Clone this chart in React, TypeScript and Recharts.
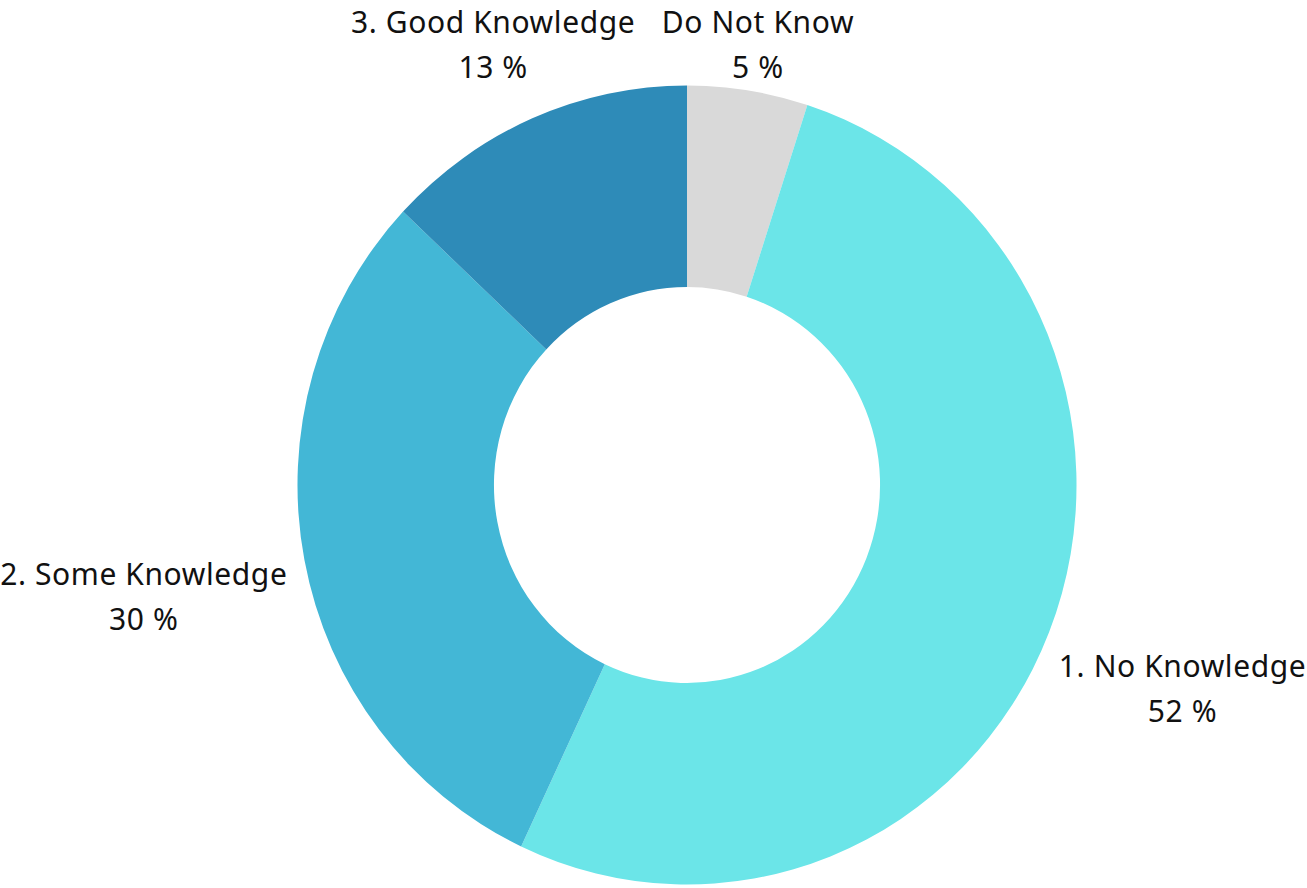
import React from "react";
import { PieChart, Pie, Cell } from "recharts";

const categories = ["Do Not Know", "1. No Knowledge", "2. Some Knowledge", "3. Good Knowledge"];
const shares = [5, 52, 30, 13];
const percentLabels = ["5 %", "52 %", "30 %", "13 %"];
const colors = ["#D9D9D9", "#6BE5E8", "#43B7D6", "#2E8BB8"];

const data = categories.map((name, i) => ({ name, value: shares[i], pct: percentLabels[i] }));

const RAD = Math.PI / 180;
const MIN_Y = 37;

const renderLabel = (props: any) => {
  const { cx, cy, midAngle, index } = props;
  const cos = Math.cos(-midAngle * RAD);
  const sin = Math.sin(-midAngle * RAD);
  let r = cos < 0 ? 553 : 533;
  let y = cy + r * sin;
  if (y < MIN_Y && sin < 0) {
    r = (MIN_Y - cy) / sin;
  }
  const x = cx + r * cos;
  y = cy + r * sin;
  return (
    <text
      x={x}
      y={y}
      textAnchor="middle"
      fill="#111"
      fontFamily="'Noto Sans', sans-serif"
      fontSize={30}
      letterSpacing={0.6}
    >
      <tspan x={x} dy={-4}>{data[index].name}</tspan>
      <tspan x={x} dy={45}>{data[index].pct}</tspan>
    </text>
  );
};

export default function App() {
  return (
    <div style={{ width: 1307, height: 888, background: "#fff" }}>
      <style>{`body{margin:0}
path.recharts-sector{transform:scale(0.975,1);transform-origin:687px 485px;transform-box:view-box;}`}</style>
      <PieChart width={1307} height={888} margin={{ top: 0, right: 0, bottom: 0, left: 0 }}>
        <Pie
          data={data}
          dataKey="value"
          nameKey="name"
          cx={687}
          cy={485}
          innerRadius={198}
          outerRadius={399.5}
          startAngle={90}
          endAngle={-270}
          stroke="none"
          label={renderLabel}
          labelLine={false}
          isAnimationActive={false}
        >
          {data.map((d, i) => (
            <Cell key={d.name} fill={colors[i]} />
          ))}
        </Pie>
      </PieChart>
    </div>
  );
}
